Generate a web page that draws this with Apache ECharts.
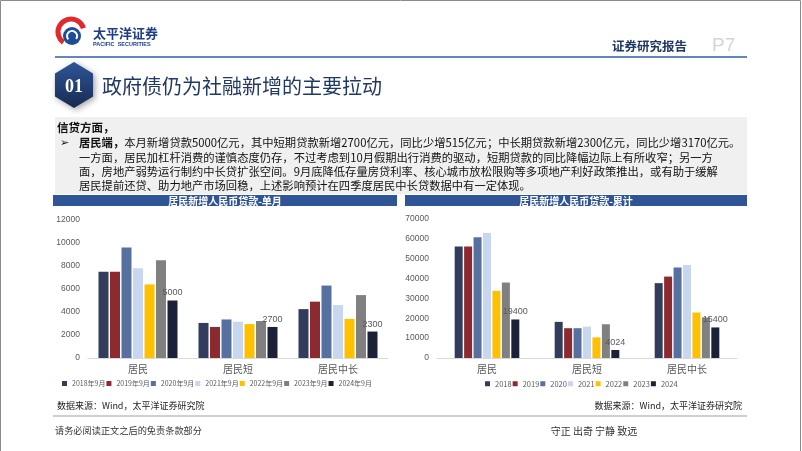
<!DOCTYPE html>
<html>
<head>
<meta charset="utf-8">
<script src="https://cdn.jsdelivr.net/npm/echarts@6/dist/echarts.min.js"></script>
<style>
html,body{margin:0;padding:0;background:#fff;}
#c{width:802px;height:451px;}
</style>
</head>
<body>
<div id="c"></div>
<script>
// ---- data ----
var categories = ['居民', '居民短', '居民中长'];
var monthlyNames = ['2018年9月', '2019年9月', '2020年9月', '2021年9月', '2022年9月', '2023年9月', '2024年9月'];
var monthly2018 = [7500, 3050, 4250];
var monthly2019 = [7500, 2700, 4900];
var monthly2020 = [9600, 3350, 6300];
var monthly2021 = [7800, 3150, 4600];
var monthly2022 = [6400, 2950, 3400];
var monthly2023 = [8500, 3215, 5470];
var monthly2024 = [5000, 2700, 2300];
var cumNames = ['2018', '2019', '2020', '2021', '2022', '2023', '2024'];
var cum2018 = [56200, 18200, 37700];
var cum2019 = [56200, 15000, 41000];
var cum2020 = [60800, 15000, 45600];
var cum2021 = [63000, 15800, 46800];
var cum2022 = [33800, 10400, 22900];
var cum2023 = [38000, 17000, 20400];
var cum2024 = [19400, 4024, 15400];
var leftTicks = {min: 0, max: 12000, interval: 2000};
var rightTicks = {min: 0, max: 70000, interval: 10000};

var colors = ['#323d5e', '#8c2a2f', '#56709f', '#c6d7ef', '#ffc000', '#808080', '#1c2138'];
var monthlyData = [monthly2018, monthly2019, monthly2020, monthly2021, monthly2022, monthly2023, monthly2024];
var cumData = [cum2018, cum2019, cum2020, cum2021, cum2022, cum2023, cum2024];

var CJK = '"Noto Sans CJK SC", sans-serif';
var NARROW = '"Liberation Sans Narrow", "Noto Sans CJK SC", sans-serif';
var gray = '#595959';

var series = [];
monthlyNames.forEach(function (n, i) {
  series.push({
    name: n, type: 'bar', xAxisIndex: 0, yAxisIndex: 0,
    data: monthlyData[i], barWidth: 10, barGap: '15%',
    itemStyle: {color: colors[i]},
    label: {show: i === 6, position: 'top', distance: 3, color: gray, fontSize: 9, fontFamily: 'Liberation Sans'}
  });
});
cumNames.forEach(function (n, i) {
  series.push({
    name: n, type: 'bar', xAxisIndex: 1, yAxisIndex: 1,
    data: cumData[i], barWidth: 8, barGap: '18%',
    itemStyle: {color: colors[i]},
    label: {show: i === 6, position: 'top', distance: 3, color: gray, fontSize: 9, fontFamily: 'Liberation Sans'}
  });
});

function xAx(gi) {
  return {
    type: 'category', gridIndex: gi, data: categories,
    axisLine: {lineStyle: {color: '#d9d9d9'}}, axisTick: {show: false},
    axisLabel: {color: gray, fontSize: 10, margin: 6, fontFamily: CJK}
  };
}
function yAx(gi, t) {
  return {
    type: 'value', gridIndex: gi, min: t.min, max: t.max, interval: t.interval,
    axisLine: {show: false}, axisTick: {show: false}, splitLine: {show: false},
    axisLabel: {color: gray, fontSize: 8.5, margin: 8, fontFamily: 'Liberation Sans',
      formatter: function (v) { return String(v); }}
  };
}

var hex = [];
for (var k = 0; k < 6; k++) {
  var a = Math.PI / 180 * (60 * k - 90);
  hex.push([74 + 22 * Math.cos(a), 85 + 23 * Math.sin(a)]);
}

var body1 = '{b|居民端，}本月新增贷款5000亿元，其中短期贷款新增2700亿元，同比少增515亿元；中长期贷款新增2300亿元，同比少增3170亿元。';
var body2 = '一方面，居民加杠杆消费的谨慎态度仍存，不过考虑到10月假期出行消费的驱动，短期贷款的同比降幅边际上有所收窄；另一方';
var body3 = '面，房地产弱势运行制约中长贷扩张空间。9月底降低存量房贷利率、核心城市放松限购等多项地产利好政策推出，或有助于缓解';
var body4 = '居民提前还贷、助力地产市场回稳，上述影响预计在四季度居民中长贷数据中有一定体现。';

function txt(x, y, s, size, color, extra) {
  var o = {type: 'text', x: x, y: y, style: {text: s, fontSize: size, fill: color, fontFamily: CJK, textVerticalAlign: 'middle'}};
  if (extra) for (var key in extra) o.style[key] = extra[key];
  return o;
}

var graphics = [
  {type: 'rect', shape: {x: 0.5, y: 0.5, width: 800, height: 452}, style: {fill: 'none', stroke: '#8a8a8a', lineWidth: 1}},
  // logo
  {type: 'arc', shape: {cx: 71, cy: 32, r: 13, startAngle: -0.3, endAngle: 2.2, clockwise: false}, style: {stroke: '#e02a2f', lineWidth: 5, fill: 'none'}},
  {type: 'circle', shape: {cx: 72, cy: 36, r: 9}, style: {fill: '#1f4c99'}},
  {type: 'arc', shape: {cx: 72, cy: 36, r: 5, startAngle: 2.4, endAngle: 0.6, clockwise: true}, style: {stroke: '#fff', lineWidth: 2, fill: 'none'}},
  txt(93, 33, '太平洋证券', 13, '#1f3c88', {fontWeight: 'bold'}),
  txt(93, 44, 'PACIFIC  SECURITIES', 5.5, '#1f3c88', {fontFamily: 'Liberation Sans', fontWeight: 'bold'}),
  txt(612, 46, '证券研究报告', 12.5, '#1f3864', {fontWeight: 'bold'}),
  txt(712, 46, 'P7', 19, '#d4d4d4', {fontFamily: 'Liberation Sans'}),
  {type: 'line', shape: {x1: 55, y1: 57, x2: 747, y2: 57}, style: {stroke: '#2e5fa8', lineWidth: 1.5}},
  // hexagon
  {type: 'polygon', shape: {points: hex}, style: {
    fill: {type: 'linear', x: 0, y: 0, x2: 0, y2: 1, colorStops: [{offset: 0, color: '#2f5597'}, {offset: 1, color: '#172b52'}]},
    shadowBlur: 6, shadowColor: 'rgba(0,0,0,0.35)', shadowOffsetX: 2, shadowOffsetY: 2}},
  txt(74, 87, '01', 18, '#ffffff', {fontFamily: 'Liberation Serif', fontWeight: 'bold', textAlign: 'center'}),
  txt(102, 86, '政府债仍为社融新增的主要拉动', 20, '#203864'),
  // text box
  {type: 'rect', shape: {x: 55, y: 117, width: 692, height: 77}, style: {fill: '#f0f0f0'}},
  txt(57, 128, '信贷方面，', 11.5, '#111', {fontWeight: 'bold'}),
  txt(60, 143, '➢', 11, '#111', {fontFamily: 'DejaVu Sans'}),
  {type: 'text', x: 79, y: 143, style: {text: body1, fontSize: 11.3, fill: '#111', fontFamily: CJK, textVerticalAlign: 'middle',
    rich: {b: {fontSize: 11.3, fontWeight: 'bold', fill: '#111', fontFamily: CJK}}}},
  txt(79, 158, body2, 11.3, '#111'),
  txt(79, 172, body3, 11.3, '#111'),
  txt(79, 186, body4, 11.3, '#111'),
  // chart title bars
  {type: 'rect', shape: {x: 53, y: 195, width: 344, height: 11}, style: {fill: '#2f5597'}},
  txt(225, 201, '居民新增人民币贷款-单月', 10, '#fff', {textAlign: 'center', fontWeight: 'bold'}),
  {type: 'rect', shape: {x: 405, y: 195, width: 342, height: 11}, style: {fill: '#2f5597'}},
  txt(576, 201, '居民新增人民币贷款-累计', 10, '#fff', {textAlign: 'center', fontWeight: 'bold'}),
  // sources & footer
  txt(57, 406, '数据来源：Wind，太平洋证券研究院', 9, '#222'),
  txt(742, 406, '数据来源：Wind，太平洋证券研究院', 9, '#222', {textAlign: 'right'}),
  {type: 'line', shape: {x1: 53, y1: 416, x2: 747, y2: 416}, style: {stroke: '#a0a0a0', lineWidth: 1}},
  txt(55, 431, '请务必阅读正文之后的免责条款部分', 9.2, '#333'),
  txt(594, 431, '守正 出奇 宁静 致远', 10, '#333', {textAlign: 'center'})
];

var chart = echarts.init(document.getElementById('c'), null, {renderer: 'canvas'});
chart.setOption({
  animation: false,
  backgroundColor: '#fff',
  grid: [
    {left: 88, width: 300, top: 220, height: 138},
    {left: 437, width: 300, top: 219, height: 139}
  ],
  xAxis: [xAx(0), xAx(1)],
  yAxis: [yAx(0, leftTicks), yAx(1, rightTicks)],
  legend: [
    {data: monthlyNames, left: 62, top: 380, icon: 'rect', itemWidth: 5, itemHeight: 5, itemGap: 1, padding: 0,
     textStyle: {color: gray, fontSize: 7, fontFamily: NARROW}},
    {data: cumNames, left: 485, top: 380, icon: 'rect', itemWidth: 5, itemHeight: 5, itemGap: 1, padding: 0,
     textStyle: {color: gray, fontSize: 7.5, fontFamily: NARROW}}
  ],
  series: series,
  graphic: graphics
});
</script>
</body>
</html>
